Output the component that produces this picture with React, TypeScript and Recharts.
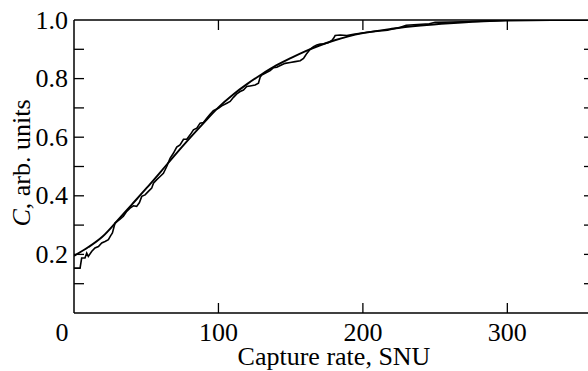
import React from 'react';
import { LineChart, Line, XAxis, YAxis } from 'recharts';

// smooth model curve
const fitX = [0, 10, 20, 30, 40, 50, 60, 70, 80, 90, 100, 110, 120, 130, 140, 150, 160, 170, 180, 190, 200, 220, 240, 260, 280, 300, 330, 360];
const fitC = [0.195, 0.225, 0.262, 0.315, 0.37, 0.425, 0.482, 0.54, 0.596, 0.65, 0.702, 0.745, 0.782, 0.815, 0.845, 0.87, 0.893, 0.913, 0.93, 0.944, 0.955, 0.97, 0.981, 0.989, 0.995, 0.998, 1.0, 1.0];

// empirical (stepped) distribution
const empX = [0, 4.2, 5.3, 7.6, 8.8, 9.9, 12.2, 14.5, 16.9, 19.2, 21.5, 23.8, 25.4, 26.6, 28.4, 31.9, 34.2, 36.5, 38.8, 41.1, 43.4, 45.3, 46.9, 49.2, 51.5, 53.8, 55.0, 57.3, 59.6, 61.9, 64.2, 66.5, 68.8, 71.1, 73.4, 75.8, 78.1, 80.4, 82.7, 85.0, 87.3, 89.6, 91.9, 94.2, 96.5, 100, 102.3, 105.8, 108.1, 110.4, 112.7, 115, 117.3, 119.6, 121.9, 125.4, 127.7, 128.9, 130, 132.3, 135.8, 138.1, 140.4, 143.9, 146.2, 149.7, 153.1, 156.6, 158.9, 160, 161.2, 163.5, 165.8, 168.1, 170.4, 172.7, 176.2, 178.5, 179.7, 180.8, 184.3, 188.9, 193.5, 198.2, 202.8, 210, 217, 226, 230, 246, 250, 270, 288, 300, 320, 360];
const empC = [0.153, 0.153, 0.1875, 0.1875, 0.2045, 0.193, 0.21, 0.222, 0.227, 0.239, 0.244, 0.25, 0.264, 0.273, 0.307, 0.32, 0.33, 0.347, 0.358, 0.366, 0.364, 0.377, 0.398, 0.403, 0.415, 0.426, 0.443, 0.455, 0.466, 0.477, 0.5, 0.528, 0.545, 0.566, 0.574, 0.593, 0.593, 0.608, 0.625, 0.631, 0.648, 0.65, 0.665, 0.678, 0.691, 0.699, 0.707, 0.716, 0.722, 0.736, 0.748, 0.756, 0.761, 0.773, 0.775, 0.778, 0.784, 0.805, 0.8125, 0.818, 0.827, 0.8375, 0.839, 0.847, 0.852, 0.855, 0.858, 0.861, 0.869, 0.877, 0.886, 0.9, 0.909, 0.915, 0.918, 0.918, 0.923, 0.93, 0.9375, 0.947, 0.949, 0.947, 0.951, 0.955, 0.958, 0.962, 0.965, 0.975, 0.982, 0.987, 0.992, 0.994, 0.997, 0.999, 1.0, 1.0];

const xTicks = [0, 100, 200, 300];
const topTicks = [100, 200, 300];
const yTicks = [0, 0.1, 0.2, 0.3, 0.4, 0.5, 0.6, 0.7, 0.8, 0.9, 1.0];

const fitData = fitX.map((x, i) => ({ x, c: fitC[i] }));
const empData = empX.map((x, i) => ({ x, c: empC[i] }));

const FONT = "'Liberation Serif', 'Times New Roman', serif";
const FS = 26;
const TICK = 10;

const BottomTick = (props: any) => {
    const { x, y, payload } = props;
    const v = payload.value;
    return (
        <g>
            {v > 0 && <line x1={x} y1={y} x2={x} y2={y - TICK} stroke="#000" strokeWidth={1.3} />}
            <text x={v === 0 ? x - 12 : x} y={y + 28} textAnchor="middle" fontSize={FS} fontFamily={FONT} fill="#000">{v}</text>
        </g>
    );
};

const TopTick = (props: any) => {
    const { x, y } = props;
    return <line x1={x} y1={y} x2={x} y2={y + TICK} stroke="#000" strokeWidth={1.3} />;
};

const LeftTick = (props: any) => {
    const { x, y, payload } = props;
    const v = payload.value;
    const k = Math.round(v * 10);
    return (
        <g>
            {k > 0 && k < 10 && <line x1={x} y1={y} x2={x + TICK} y2={y} stroke="#000" strokeWidth={1.3} />}
            {k > 0 && k % 2 === 0 && (
                <text x={x - 6} y={y + 8.5} textAnchor="end" fontSize={FS} fontFamily={FONT} fill="#000">{v.toFixed(1)}</text>
            )}
        </g>
    );
};

const RightTick = (props: any) => {
    const { x, y, payload } = props;
    const k = Math.round(payload.value * 10);
    if (k <= 0 || k >= 10) return <g />;
    return <line x1={x} y1={y} x2={x - TICK} y2={y} stroke="#000" strokeWidth={1.3} />;
};

const YTitle = () => (
    <text transform="translate(30, 163) rotate(-90)" textAnchor="middle" fontSize={FS} fontFamily={FONT} fill="#000">
        <tspan fontStyle="italic">C</tspan>, arb. units
    </text>
);

const XTitle = () => (
    <text x={334} y={365} textAnchor="middle" fontSize={FS} fontFamily={FONT} fill="#000">Capture rate, SNU</text>
);

export default function App() {
    return (
        <div style={{ width: 588, height: 371, overflow: 'hidden', background: '#fff' }}>
            <style>{'body{margin:0}'}</style>
            <LineChart width={600} height={371} margin={{ top: 19, right: 5, bottom: 57, left: 73 }}>
                <XAxis dataKey="x" type="number" domain={[0, 360]} ticks={xTicks} height={1}
                    tickSize={0} tickMargin={0} tickLine={false} tick={<BottomTick />}
                    axisLine={{ stroke: '#000', strokeWidth: 1.5 }} label={<XTitle />} allowDataOverflow />
                <XAxis xAxisId="top" orientation="top" dataKey="x" type="number" domain={[0, 360]} ticks={topTicks} height={1}
                    tickSize={0} tickMargin={0} tickLine={false} tick={<TopTick />}
                    axisLine={{ stroke: '#000', strokeWidth: 1.5 }} allowDataOverflow />
                <YAxis type="number" domain={[0, 1]} ticks={yTicks} width={1}
                    tickSize={0} tickMargin={0} tickLine={false} tick={<LeftTick />}
                    axisLine={{ stroke: '#000', strokeWidth: 1.5 }} label={<YTitle />} allowDataOverflow />
                <YAxis yAxisId="right" orientation="right" type="number" domain={[0, 1]} ticks={yTicks} width={1}
                    tickSize={0} tickMargin={0} tickLine={false} tick={<RightTick />}
                    axisLine={{ stroke: '#000', strokeWidth: 1.5 }} allowDataOverflow />
                <Line data={empData} dataKey="c" type="linear" stroke="#000" strokeWidth={1.6} dot={false} isAnimationActive={false} />
                <Line data={fitData} dataKey="c" type="monotone" stroke="#000" strokeWidth={1.9} dot={false} isAnimationActive={false} />
            </LineChart>
        </div>
    );
}
